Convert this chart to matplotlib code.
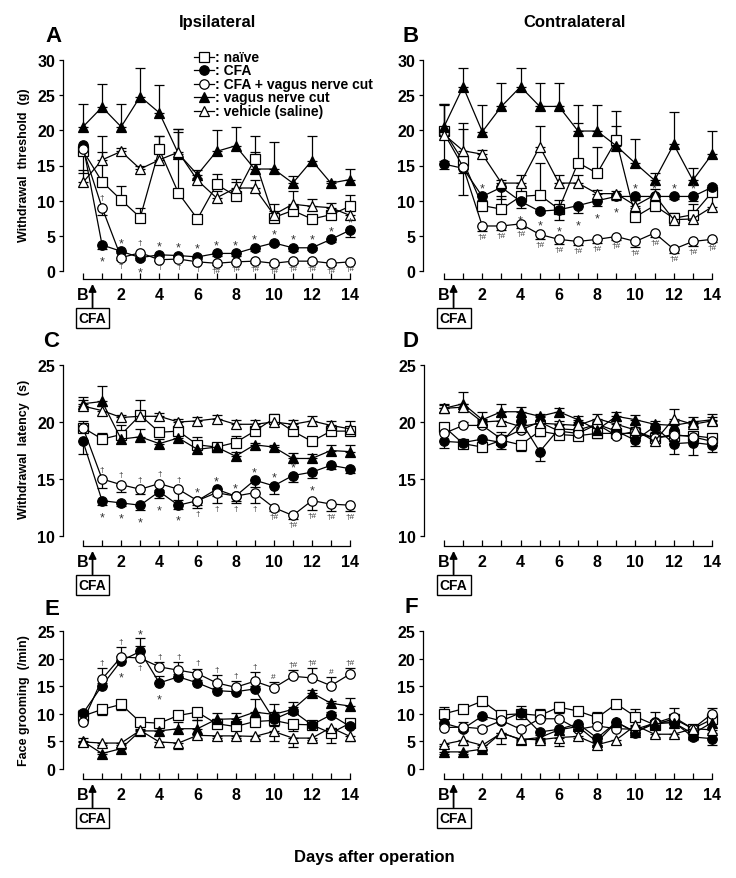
import matplotlib
matplotlib.use('Agg')
import matplotlib.pyplot as plt
import numpy as np
from matplotlib.lines import Line2D

plt.rcParams['font.family'] = ['Liberation Sans', 'DejaVu Sans']
plt.rcParams['font.weight'] = 'bold'

# ---- data ----
days = np.arange(15)                      # 0 = B (baseline), 1..14
day_labels = ['B', '', '2', '', '4', '', '6', '', '8', '', '10', '', '12', '', '14']

# A: ipsilateral withdrawal threshold (g)
A_naive = [17.1, 12.7, 10.1, 7.6, 17.3, 11.1, 7.4, 12.3, 10.7, 15.9, 7.6, 8.6, 7.4, 8.0, 9.2]
A_naive_err = [0.5, 4.2, 2.0, 1.3, 1.9, 8.7, 0.4, 1.5, 2.4, 1.0, 1.9, 0.8, 0.6, 0.6, 1.6]
A_cfa = [17.9, 3.7, 2.8, 1.9, 2.3, 2.2, 2.0, 2.5, 2.5, 3.3, 4.0, 3.3, 3.3, 4.5, 5.8]
A_cfa_err = [0.5, 0.6, 0.3, 0.3, 0.3, 0.3, 0.3, 0.3, 0.3, 0.4, 0.3, 0.4, 0.3, 0.4, 0.9]
A_cfav = [17.3, 9.0, 1.9, 2.6, 1.6, 1.7, 1.3, 1.1, 1.3, 1.4, 1.1, 1.4, 1.4, 1.1, 1.3]
A_cfav_err = [3.4, 1.0, 0.3, 0.3, 0.2, 0.2, 0.2, 0.2, 0.2, 0.2, 0.2, 0.2, 0.2, 0.2, 0.2]
A_vagus = [20.5, 23.3, 20.5, 24.8, 22.5, 16.7, 13.7, 17.0, 17.8, 14.5, 14.5, 12.5, 15.7, 12.5, 13.0]
A_vagus_err = [3.3, 3.3, 3.3, 4.0, 3.9, 3.5, 0.6, 3.1, 2.7, 4.7, 3.8, 1.0, 3.5, 0.3, 1.5]
A_vehicle = [12.6, 15.8, 17.0, 14.5, 15.8, 16.9, 12.9, 10.4, 11.8, 11.8, 8.0, 9.5, 9.2, 9.0, 7.9]
A_vehicle_err = [1.7, 3.4, 0.5, 0.5, 3.4, 3.3, 0.3, 1.0, 0.9, 1.1, 0.5, 1.9, 1.0, 0.6, 0.8]

# B: contralateral withdrawal threshold (g)
B_naive = [19.9, 15.6, 9.3, 8.8, 10.6, 10.8, 8.8, 15.4, 13.9, 18.6, 7.7, 9.3, 7.5, 8.0, 11.2]
B_naive_err = [3.7, 4.6, 1.3, 1.9, 1.5, 4.6, 1.3, 5.6, 3.8, 2.0, 1.2, 1.0, 0.8, 1.5, 1.0]
B_cfa = [15.2, 14.6, 10.6, 11.9, 9.9, 8.5, 8.7, 9.3, 10.0, 10.6, 10.6, 10.6, 10.6, 10.6, 11.9]
B_cfa_err = [0.7, 3.8, 0.5, 1.6, 0.9, 0.3, 1.4, 1.1, 0.8, 0.5, 0.5, 0.4, 0.4, 0.7, 0.6]
B_cfav = [19.6, 14.8, 6.4, 6.4, 6.7, 5.2, 4.5, 4.2, 4.5, 4.9, 4.2, 5.4, 3.1, 4.2, 4.5]
B_cfav_err = [4.0, 0.8, 0.7, 0.6, 0.6, 0.6, 0.7, 0.5, 0.5, 0.5, 0.8, 0.5, 0.5, 0.6, 0.4]
B_vagus = [20.5, 26.2, 19.8, 23.4, 26.2, 23.4, 23.4, 19.9, 19.9, 17.8, 15.3, 12.9, 18.0, 12.9, 16.6]
B_vagus_err = [3.3, 2.7, 3.8, 3.3, 2.7, 3.3, 3.3, 3.7, 3.7, 5.0, 3.5, 1.0, 4.6, 1.7, 3.3]
B_vehicle = [19.4, 17.1, 16.6, 12.5, 12.5, 17.7, 12.5, 12.5, 11.0, 11.0, 9.3, 10.8, 7.3, 7.4, 9.1]
B_vehicle_err = [4.3, 4.0, 0.6, 0.5, 1.1, 2.9, 1.1, 1.1, 0.5, 0.4, 1.0, 0.8, 0.6, 0.6, 1.5]

# C: ipsilateral withdrawal latency (s)
C_naive = [19.5, 18.5, 18.9, 20.6, 19.1, 19.2, 18.0, 17.8, 18.2, 19.2, 20.3, 19.2, 18.3, 19.2, 19.2]
C_naive_err = [0.6, 0.5, 0.8, 1.3, 0.3, 0.4, 0.7, 0.4, 0.6, 0.3, 0.4, 0.3, 0.3, 0.3, 0.3]
C_cfa = [18.3, 13.1, 12.9, 12.7, 13.9, 12.7, 13.1, 14.1, 13.5, 14.9, 14.4, 15.3, 15.6, 16.2, 15.9]
C_cfa_err = [1.1, 0.4, 0.3, 0.4, 0.6, 0.3, 0.4, 0.6, 0.4, 0.6, 0.7, 0.6, 0.5, 0.3, 0.4]
C_cfav = [19.5, 15.0, 14.5, 14.1, 14.6, 14.1, 13.1, 13.8, 13.5, 13.8, 12.5, 11.8, 13.1, 12.8, 12.7]
C_cfav_err = [0.3, 0.8, 0.6, 0.4, 0.6, 0.9, 0.6, 0.9, 0.6, 0.9, 0.3, 0.3, 0.8, 0.6, 0.5]
C_vagus = [21.6, 21.8, 18.5, 18.7, 18.1, 18.6, 17.6, 17.8, 17.0, 18.0, 17.8, 16.8, 16.8, 17.5, 17.4]
C_vagus_err = [0.6, 1.4, 0.4, 0.7, 0.4, 0.3, 0.3, 0.3, 0.4, 0.2, 0.2, 0.5, 0.4, 0.5, 0.6]
C_vehicle = [21.4, 21.0, 20.4, 20.5, 20.5, 20.0, 20.1, 20.3, 19.8, 19.8, 20.0, 19.8, 20.1, 19.7, 19.4]
C_vehicle_err = [0.5, 0.4, 0.2, 0.3, 0.3, 0.3, 0.3, 0.3, 0.4, 0.4, 0.4, 0.4, 0.4, 0.4, 0.7]

# D: contralateral withdrawal latency (s)
D_naive = [19.6, 18.1, 17.8, 18.4, 18.0, 19.2, 18.9, 18.8, 19.0, 19.0, 19.0, 18.6, 18.8, 18.8, 18.6]
D_naive_err = [0.3, 0.4, 0.2, 0.3, 0.5, 0.4, 0.3, 0.4, 0.4, 0.3, 0.3, 0.3, 0.4, 0.4, 0.3]
D_cfa = [18.3, 18.2, 18.5, 18.2, 20.1, 17.4, 19.4, 19.3, 19.8, 19.2, 18.4, 19.6, 18.1, 18.2, 18.0]
D_cfa_err = [0.6, 0.5, 0.3, 0.6, 0.6, 0.8, 0.3, 0.5, 0.5, 0.4, 0.5, 0.3, 0.9, 1.1, 0.6]
D_cfav = [19.0, 19.7, 19.7, 18.5, 19.3, 20.0, 19.2, 19.0, 19.8, 18.8, 19.2, 18.6, 18.9, 18.7, 18.3]
D_cfav_err = [0.4, 0.3, 0.4, 0.6, 0.5, 0.4, 0.5, 0.4, 0.3, 0.3, 0.4, 0.5, 0.4, 0.4, 0.4]
D_vagus = [21.2, 21.6, 20.2, 20.9, 20.9, 20.5, 20.9, 20.2, 19.3, 20.5, 20.2, 19.8, 19.7, 20.0, 20.2]
D_vagus_err = [0.4, 1.0, 0.7, 0.7, 0.4, 0.2, 0.3, 0.3, 0.3, 0.4, 0.4, 0.3, 0.4, 0.4, 0.5]
D_vehicle = [21.2, 21.3, 20.0, 20.1, 19.6, 19.9, 19.8, 19.7, 20.3, 19.8, 19.3, 18.3, 20.3, 19.8, 20.1]
D_vehicle_err = [0.3, 0.3, 0.3, 0.4, 0.4, 0.3, 0.3, 0.3, 0.4, 0.3, 0.5, 0.3, 0.8, 0.3, 0.3]

# E: ipsilateral face grooming (/min)
E_naive = [9.6, 10.8, 11.7, 8.5, 8.3, 9.7, 10.3, 8.2, 7.7, 8.6, 8.8, 8.1, 8.0, 6.5, 8.3]
E_naive_err = [0.5, 1.1, 1.0, 0.5, 0.5, 0.5, 1.5, 0.5, 0.5, 0.8, 1.0, 1.2, 0.5, 1.7, 0.5]
E_cfa = [10.1, 15.1, 19.6, 21.3, 15.6, 16.7, 15.6, 14.2, 14.0, 14.5, 9.0, 10.5, 8.0, 9.8, 7.7]
E_cfa_err = [0.5, 0.5, 0.8, 2.4, 1.2, 0.5, 0.5, 0.5, 0.5, 0.5, 1.3, 0.8, 0.5, 0.6, 0.6]
E_cfav = [8.6, 16.3, 20.3, 20.1, 18.5, 17.9, 17.3, 15.6, 14.8, 15.9, 14.7, 16.8, 16.5, 15.1, 17.2]
E_cfav_err = [0.4, 2.0, 1.8, 2.2, 0.9, 1.5, 0.9, 1.5, 1.2, 1.6, 1.1, 1.2, 1.8, 1.5, 1.1]
E_vagus = [5.0, 2.8, 3.7, 6.9, 6.9, 7.3, 7.3, 9.0, 9.1, 10.3, 9.9, 10.8, 13.8, 11.9, 11.4]
E_vagus_err = [0.6, 0.3, 0.3, 0.3, 0.6, 1.2, 1.5, 1.1, 1.1, 2.3, 1.9, 1.4, 0.5, 0.5, 1.4]
E_vehicle = [4.9, 4.7, 4.7, 7.0, 4.9, 4.7, 6.1, 6.0, 6.0, 5.9, 6.8, 5.6, 5.6, 7.5, 5.9]
E_vehicle_err = [0.5, 0.4, 0.4, 0.5, 1.0, 1.1, 0.4, 0.4, 0.4, 0.5, 1.7, 1.6, 0.4, 0.5, 0.9]

# F: contralateral face grooming (/min)
F_naive = [10.0, 10.9, 12.3, 9.8, 10.0, 9.7, 11.2, 10.5, 9.3, 11.8, 9.5, 8.0, 9.1, 7.3, 9.0]
F_naive_err = [1.2, 0.5, 0.7, 0.4, 1.4, 1.1, 1.0, 0.5, 1.1, 0.7, 1.3, 2.3, 2.0, 0.5, 1.0]
F_cfa = [8.3, 7.3, 9.6, 8.7, 10.2, 6.7, 7.2, 8.2, 5.6, 8.5, 6.6, 8.5, 8.5, 5.8, 5.5]
F_cfa_err = [0.6, 0.5, 0.5, 0.4, 0.6, 0.5, 0.5, 0.5, 0.5, 0.5, 0.5, 0.5, 0.5, 0.5, 1.1]
F_cfav = [7.5, 7.6, 7.3, 8.8, 7.2, 9.1, 9.1, 7.2, 7.8, 7.3, 7.2, 8.3, 9.4, 7.3, 10.0]
F_cfav_err = [0.5, 1.0, 0.5, 0.5, 0.5, 0.5, 1.0, 0.5, 0.5, 0.5, 0.5, 0.5, 0.6, 0.5, 1.1]
F_vagus = [3.1, 3.1, 3.6, 6.6, 5.3, 5.7, 7.1, 7.7, 4.9, 8.5, 6.7, 8.2, 8.4, 6.4, 8.4]
F_vagus_err = [0.3, 0.3, 0.3, 2.0, 0.4, 0.3, 0.3, 0.5, 0.5, 0.4, 0.5, 0.3, 0.3, 0.3, 0.3]
F_vehicle = [4.5, 5.2, 4.3, 6.5, 5.4, 5.3, 5.7, 5.9, 4.4, 5.3, 7.9, 6.3, 6.3, 7.3, 7.1]
F_vehicle_err = [0.3, 0.8, 0.3, 0.3, 0.3, 0.3, 1.5, 0.3, 0.3, 0.7, 0.5, 0.5, 0.5, 0.3, 0.5]

# significance marks: (day, series, above/below, text)
A_marks = [(1, 'cfa', 'b', '*'), (2, 'cfa', 'a', '*'), (3, 'cfa', 'b', '*'), (4, 'cfa', 'a', '*'),
           (5, 'cfa', 'a', '*'), (6, 'cfa', 'a', '*'), (7, 'cfa', 'a', '*'), (8, 'cfa', 'a', '*'),
           (9, 'cfa', 'a', '*'), (10, 'cfa', 'a', '*'), (11, 'cfa', 'a', '*'), (12, 'cfa', 'a', '*'),
           (13, 'cfa', 'a', '*'), (14, 'cfa', 'a', '*'),
           (1, 'cfav', 'a', '†'), (3, 'cfav', 'a', '†'), (2, 'cfav', 'b', '†'), (4, 'cfav', 'b', '†'),
           (5, 'cfav', 'b', '†'), (6, 'cfav', 'b', '†'), (7, 'cfav', 'b', '†#'), (8, 'cfav', 'b', '†#'),
           (9, 'cfav', 'b', '†#'), (10, 'cfav', 'b', '†#'), (11, 'cfav', 'b', '†#'), (12, 'cfav', 'b', '†#'),
           (13, 'cfav', 'b', '†#'), (14, 'cfav', 'b', '†#')]
B_marks = [(2, 'cfa', 'a', '*'), (4, 'cfa', 'b', '*'), (5, 'cfa', 'b', '*'), (6, 'cfa', 'b', '*'),
           (7, 'cfa', 'b', '*'), (8, 'cfa', 'b', '*'), (9, 'cfa', 'b', '*'), (10, 'cfa', 'a', '*'),
           (11, 'cfa', 'a', '*'), (12, 'cfa', 'a', '*'), (13, 'cfa', 'a', '*'),
           (2, 'cfav', 'b', '†#'), (3, 'cfav', 'b', '†#'), (4, 'cfav', 'b', '†#'), (5, 'cfav', 'b', '†#'),
           (6, 'cfav', 'b', '†#'), (7, 'cfav', 'b', '†#'), (8, 'cfav', 'b', '†#'), (9, 'cfav', 'b', '†#'),
           (10, 'cfav', 'b', '†#'), (11, 'cfav', 'b', '†#'), (12, 'cfav', 'b', '†#'), (13, 'cfav', 'b', '†#'),
           (14, 'cfav', 'b', '†#')]
C_marks = [(1, 'cfav', 'a', '†'), (2, 'cfav', 'a', '†'), (3, 'cfav', 'a', '†'), (4, 'cfav', 'a', '†'),
           (5, 'cfav', 'a', '†'), (1, 'cfa', 'b', '*'), (2, 'cfa', 'b', '*'), (3, 'cfa', 'b', '*'),
           (4, 'cfa', 'b', '*'), (5, 'cfa', 'b', '*'), (6, 'cfa', 'a', '*'), (7, 'cfa', 'a', '*'),
           (8, 'cfa', 'a', '*'), (9, 'cfa', 'a', '*'), (10, 'cfa', 'a', '*'), (11, 'cfa', 'a', '*'),
           (12, 'cfa', 'b', '*'), (6, 'cfav', 'b', '†'), (7, 'cfav', 'b', '†'), (8, 'cfav', 'b', '†'),
           (9, 'cfav', 'b', '†'), (10, 'cfav', 'b', '†#'), (11, 'cfav', 'b', '†#'), (12, 'cfav', 'b', '†#'),
           (13, 'cfav', 'b', '†#'), (14, 'cfav', 'b', '†#')]
D_marks = []
E_marks = [(1, 'cfav', 'a', '†'), (2, 'cfav', 'a', '†'), (4, 'cfav', 'a', '†'), (5, 'cfav', 'a', '†'),
           (6, 'cfav', 'a', '†'), (7, 'cfav', 'a', '†'), (8, 'cfav', 'a', '†'), (9, 'cfav', 'a', '†'),
           (10, 'cfav', 'a', '#'), (11, 'cfav', 'a', '†#'), (12, 'cfav', 'a', '†#'), (13, 'cfav', 'a', '#'),
           (14, 'cfav', 'a', '†#'), (3, 'cfav', 'b', '†'), (2, 'cfa', 'b', '*'), (3, 'cfa', 'a', '*'),
           (4, 'cfa', 'b', '*')]
F_marks = []

# error bar direction per panel (naive, cfa, cfav, vagus, vehicle)
A_dirs = ['up', 'down', 'down', 'up', 'up']
B_dirs = ['up', 'down', 'down', 'up', 'up']
C_dirs = ['up', 'down', 'down', 'up', 'up']
D_dirs = ['down', 'down', 'up', 'up', 'up']
E_dirs = ['down', 'up', 'up', 'up', 'down']
F_dirs = ['up', 'down', 'up', 'down', 'down']

series_keys = ['naive', 'cfa', 'cfav', 'vagus', 'vehicle']
series_labels = [': naïve', ': CFA', ': CFA + vagus nerve cut', ': vagus nerve cut', ': vehicle (saline)']
series_style = {'naive': ('s', 'white'), 'cfa': ('o', 'black'), 'cfav': ('o', 'white'),
                'vagus': ('^', 'black'), 'vehicle': ('^', 'white')}

# ---- figure ----
W, H = 736, 879
fig = plt.figure(figsize=(W / 100, H / 100), dpi=100)


def fx(px):
    return px / W


def fy(py):
    return 1 - py / H


def draw_panel(geom, vals, errs, dirs, marks, yticks):
    spine_x, d0, d14, top_px, top_val, base_px, base_val, axis_px = geom
    step = (d14 - d0) / 14.
    ppu = (base_px - top_px) / float(top_val - base_val)
    ax = fig.add_axes([fx(spine_x), fy(axis_px), (d14 - spine_x) / W, (axis_px - top_px) / H])
    ax.set_xlim(-(d0 - spine_x) / step, 14)
    ax.set_ylim(base_val - (axis_px - base_px) / ppu, top_val)
    for s in ['top', 'right']:
        ax.spines[s].set_visible(False)
    ax.spines['left'].set_bounds(base_val, top_val)
    ax.spines['bottom'].set_bounds(0, 14)
    for s in ['left', 'bottom']:
        ax.spines[s].set_linewidth(0.9)
    ax.set_xticks(days)
    ax.set_xticklabels(day_labels)
    ax.set_yticks(yticks)
    ax.tick_params(axis='x', direction='in', length=4, width=0.9, pad=6, labelsize=11.5)
    ax.tick_params(axis='y', direction='out', length=3, width=0.9, pad=2.5, labelsize=11.5)

    for key, v, e, d in zip(series_keys, vals, errs, dirs):
        mk, fc = series_style[key]
        v = np.array(v)
        e = np.array(e)
        zero = np.zeros_like(e)
        yerr = [zero, e] if d == 'up' else [e, zero]
        eb = ax.errorbar(days, v, yerr=yerr, fmt='none', ecolor='black', elinewidth=0.9,
                         capsize=3.5, capthick=0.9, zorder=2)
        for art in eb.lines[1] + eb.lines[2]:
            art.set_clip_on(False)
        ax.plot(days, v, color='black', lw=0.9, marker=mk, ms=6.8 if mk != '^' else 7.3,
                mfc=fc, mec='black', mew=0.9, zorder=3, clip_on=False)

    lookup = dict(zip(series_keys, zip(vals, errs, dirs)))
    for day, key, side, txt in marks:
        v, e, d = lookup[key]
        small = txt != '*'
        if side == 'a':
            y = v[day] + (e[day] if d == 'up' else 0)
            off = 1.5 if d == 'up' else 4.5
            ax.annotate(txt, (day, y), xytext=(0, off - (3 if not small else 0)),
                        textcoords='offset points', ha='center', va='bottom',
                        fontsize=6 if small else 9, fontweight='normal', color='0.2')
        else:
            y = v[day] - (e[day] if d == 'down' else 0)
            off = 1.5 if d == 'down' else 4.5
            ax.annotate(txt, (day, y), xytext=(0, -off - (0 if small else 3)),
                        textcoords='offset points', ha='center', va='top',
                        fontsize=6 if small else 9, fontweight='normal', color='0.2')

    ax.annotate('CFA', xy=(0.5, 0), xycoords=ax.get_xaxis_transform(), xytext=(0, -39),
                textcoords='offset pixels', ha='center', va='center', fontsize=10, fontweight='bold',
                bbox=dict(boxstyle='square,pad=0.22', fc='white', ec='black', lw=1.0),
                arrowprops=dict(arrowstyle='-|>', color='black', lw=1.3, shrinkA=0, shrinkB=3.5,
                                mutation_scale=11))
    return ax


geomA = (63, 83, 350, 61, 30, 272, 0, 280)
geomB = (423, 444, 712, 61, 30, 272, 0, 280)
geomC = (63, 83, 350, 366, 25, 537, 10, 547)
geomD = (424, 444, 712, 366, 25, 537, 10, 547)
geomE = (63, 83, 350, 632, 25, 770, 0, 780)
geomF = (423, 444, 712, 632, 25, 770, 0, 780)

draw_panel(geomA, [A_naive, A_cfa, A_cfav, A_vagus, A_vehicle],
           [A_naive_err, A_cfa_err, A_cfav_err, A_vagus_err, A_vehicle_err], A_dirs, A_marks,
           [0, 5, 10, 15, 20, 25, 30])
draw_panel(geomB, [B_naive, B_cfa, B_cfav, B_vagus, B_vehicle],
           [B_naive_err, B_cfa_err, B_cfav_err, B_vagus_err, B_vehicle_err], B_dirs, B_marks,
           [0, 5, 10, 15, 20, 25, 30])
draw_panel(geomC, [C_naive, C_cfa, C_cfav, C_vagus, C_vehicle],
           [C_naive_err, C_cfa_err, C_cfav_err, C_vagus_err, C_vehicle_err], C_dirs, C_marks,
           [10, 15, 20, 25])
draw_panel(geomD, [D_naive, D_cfa, D_cfav, D_vagus, D_vehicle],
           [D_naive_err, D_cfa_err, D_cfav_err, D_vagus_err, D_vehicle_err], D_dirs, D_marks,
           [10, 15, 20, 25])
draw_panel(geomE, [E_naive, E_cfa, E_cfav, E_vagus, E_vehicle],
           [E_naive_err, E_cfa_err, E_cfav_err, E_vagus_err, E_vehicle_err], E_dirs, E_marks,
           [0, 5, 10, 15, 20, 25])
draw_panel(geomF, [F_naive, F_cfa, F_cfav, F_vagus, F_vehicle],
           [F_naive_err, F_cfa_err, F_cfav_err, F_vagus_err, F_vehicle_err], F_dirs, F_marks,
           [0, 5, 10, 15, 20, 25])

# panel letters and titles
for letter, x, y in [('A', 45, 42), ('B', 403, 42), ('C', 43, 347),
                     ('D', 402, 347), ('E', 45, 615), ('F', 405, 613)]:
    fig.text(fx(x), fy(y), letter, fontsize=16, fontweight='bold', ha='left', va='baseline')
fig.text(fx(217), fy(27), 'Ipsilateral', fontsize=12, ha='center', va='baseline')
fig.text(fx(575), fy(27), 'Contralateral', fontsize=12, ha='center', va='baseline')
fig.text(fx(374), fy(862), 'Days after operation', fontsize=12, ha='center', va='baseline')

# y axis titles
fig.text(fx(24), fy(165), 'Withdrawal  threshold  (g)', fontsize=9, rotation=90, ha='center', va='center')
fig.text(fx(24), fy(449), 'Withdrawal  latency  (s)', fontsize=9, rotation=90, ha='center', va='center')
fig.text(fx(24), fy(701), 'Face grooming  (/min)', fontsize=9, rotation=90, ha='center', va='center')

# legend (panel A)
for i, (key, lab) in enumerate(zip(series_keys, series_labels)):
    ry = [58, 71, 85, 98, 112][i]
    mk, fc = series_style[key]
    fig.add_artist(Line2D([fx(194), fx(214)], [fy(ry), fy(ry)], color='black', lw=0.9,
                          transform=fig.transFigure))
    fig.add_artist(Line2D([fx(204)], [fy(ry)], marker=mk, ms=6.8 if mk != '^' else 7.3, mfc=fc,
                          mec='black', mew=0.9, transform=fig.transFigure))
    fig.text(fx(215), fy(ry), lab, fontsize=10, ha='left', va='center')

fig.savefig('out.png', dpi=100)
